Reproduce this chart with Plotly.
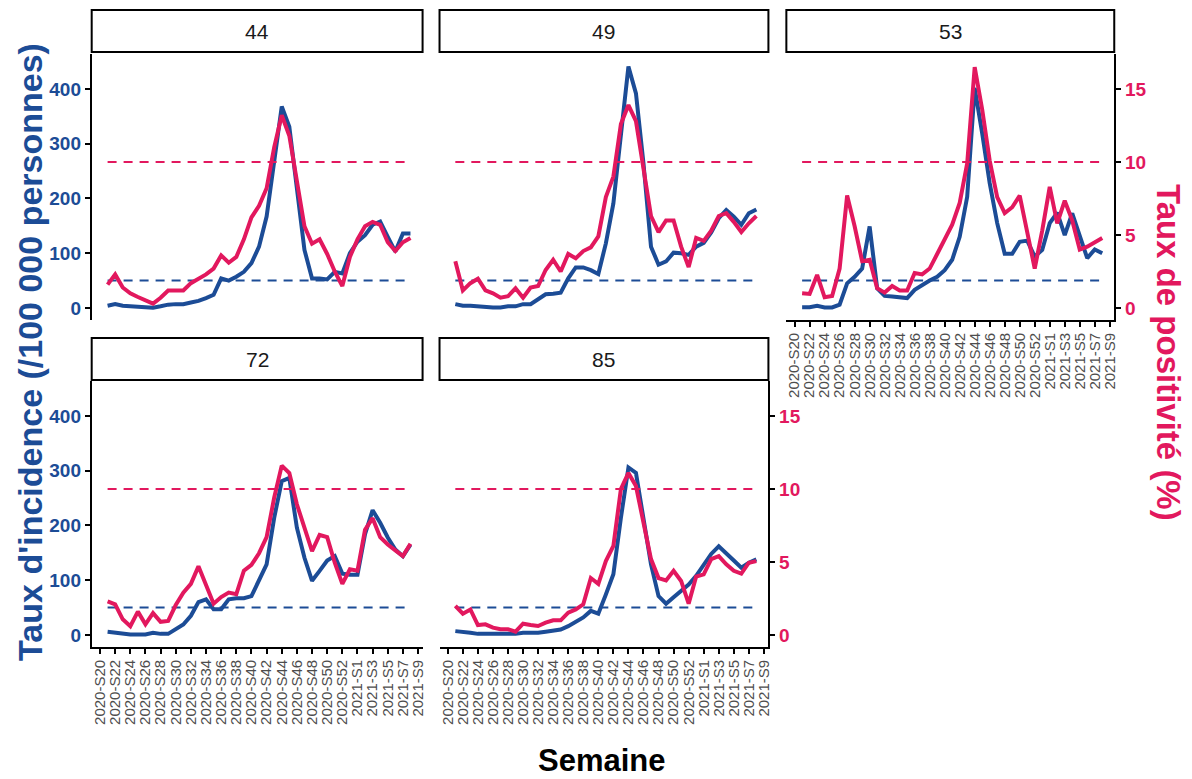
import plotly.graph_objects as go

# ---------------- data ----------------
weeks = [f"2020-S{w}" for w in range(20, 54)] + [f"2021-S{w}" for w in range(1, 10)]
tick_labels = weeks[::2]
data_weeks = weeks[1:42]  # 2020-S21 .. 2021-S8

departements = ["44", "49", "53", "72", "85"]

incidence_44 = [4, 7, 4, 3, 2, 1, 0.5, 3, 6, 7, 7, 10, 13, 18, 24, 54, 50, 57, 66, 82,
                112, 167, 264, 368, 331, 215, 106, 54, 54, 52, 66, 63, 100, 121, 133, 152, 158, 130, 103, 136, 136]
positivite_44 = [1.6, 2.3, 1.4, 1.0, 0.75, 0.5, 0.3, 0.7, 1.2, 1.2, 1.2, 1.7, 2.0, 2.3, 2.7, 3.6, 3.1, 3.5, 4.7, 6.2,
                 7.0, 8.2, 11.0, 13.2, 11.8, 8.5, 5.6, 4.4, 4.7, 3.7, 2.5, 1.5, 3.5, 4.7, 5.6, 5.9, 5.7, 4.5, 3.9, 4.5, 4.8]

incidence_49 = [7, 4, 4, 3, 1, 1, 1, 3, 3, 7, 7, 16, 25, 26, 28, 54, 74, 74, 69, 62,
                118, 191, 319, 441, 392, 264, 112, 79, 85, 101, 100, 97, 112, 119, 138, 164, 179, 167, 152, 173, 180]
positivite_49 = [3.2, 1.2, 1.7, 2.0, 1.2, 1.0, 0.7, 0.8, 1.35, 0.7, 1.4, 1.5, 2.6, 3.3, 2.5, 3.7, 3.4, 3.9, 4.15, 4.9,
                 7.6, 9.0, 12.6, 13.9, 12.8, 9.5, 6.3, 5.2, 6.0, 6.0, 4.2, 2.8, 4.8, 4.6, 5.3, 6.3, 6.5, 5.9, 5.2, 5.8, 6.3]

incidence_53 = [1.2, 1.2, 4, 1, 1, 6, 45, 57, 72, 149, 36, 22, 21, 19.5, 18, 33, 42, 50, 57, 69,
                88, 130, 203, 402, 319, 228, 155, 99, 99, 121, 123, 94, 106, 155, 174, 133, 173, 133, 91, 107, 100]
positivite_53 = [1.0, 0.96, 2.26, 0.73, 0.82, 2.7, 7.7, 5.6, 3.2, 3.3, 1.35, 1.05, 1.5, 1.2, 1.2, 2.4, 2.3, 2.7, 3.7, 4.7,
                 5.7, 7.2, 9.9, 16.5, 13.6, 10.1, 7.6, 6.5, 6.9, 7.7, 5.1, 2.7, 5.3, 8.3, 5.8, 7.35, 6.0, 4.0, 4.2, 4.5, 4.8]

incidence_72 = [6, 4, 2.4, 1, 1, 1, 4, 2, 2, 10, 19, 35, 60, 65, 47, 47, 65, 67, 67, 71,
                102, 129, 214, 281, 287, 196, 141, 99, 117, 136, 144, 112, 110, 110, 184, 228, 205, 178, 156, 144, 165]
positivite_72 = [2.3, 2.1, 1.07, 0.6, 1.6, 0.73, 1.5, 0.9, 0.96, 2.05, 2.9, 3.5, 4.7, 3.5, 2.14, 2.6, 2.9, 2.8, 4.4, 4.8,
                 5.6, 6.7, 9.4, 11.6, 11.1, 8.95, 7.35, 5.75, 6.85, 6.7, 4.95, 3.5, 4.5, 4.4, 7.2, 8.0, 6.7, 6.2, 5.8, 5.4, 6.25]

incidence_85 = [7, 6, 4, 2, 2, 2, 2, 1, 2, 4, 4, 4, 6, 8, 10, 16, 24, 32, 44, 39,
                74, 111, 214, 306, 296, 208, 129, 71, 57, 69, 80, 92, 108, 129, 148, 162, 150, 136, 123, 132, 138]
positivite_85 = [2.0, 1.46, 1.75, 0.68, 0.73, 0.5, 0.39, 0.39, 0.23, 0.77, 0.68, 0.61, 0.84, 1.0, 1.0, 1.53, 1.75, 2.1, 3.9, 3.5,
                 5.06, 6.1, 10.0, 11.1, 10.2, 7.6, 5.2, 3.9, 3.74, 4.4, 3.7, 2.14, 4.0, 4.15, 5.2, 5.4, 4.84, 4.4, 4.2, 4.95, 5.06]

incidence = [incidence_44, incidence_49, incidence_53, incidence_72, incidence_85]
positivite = [positivite_44, positivite_49, positivite_53, positivite_72, positivite_85]

seuil_incidence = 50
seuil_positivite = 10
incidence_ticks = [0, 100, 200, 300, 400]
positivite_ticks = [0, 5, 10, 15]
coef = 400 / 15

# ---------------- style ----------------
BLUE = "#1C4C96"
PINK = "#E2185E"
W, H = 1192, 779
FONT = "Liberation Sans, Arial, sans-serif"

col_px = [(91, 423), (440, 770), (788, 1117)]
row_px = [(54, 320), (381, 647)]
strip_px = [(10, 52), (338, 380)]
panel_pos = [(0, 0), (0, 1), (0, 2), (1, 0), (1, 1)]  # (row, col)

y_range = [-22, 464]
x_range = [-1.1, 42.6]


def px_x(v):
    return v / W


def px_y(v):
    return 1 - v / H


fig = go.Figure()
layout = dict(
    width=W, height=H,
    margin=dict(l=0, r=0, t=0, b=0),
    paper_bgcolor="white", plot_bgcolor="rgba(0,0,0,0)",
    showlegend=False,
    font=dict(family=FONT),
    shapes=[], annotations=[],
)

for p, dep in enumerate(departements):
    r, c = panel_pos[p]
    xn = "" if p == 0 else str(p + 1)
    y1n = "" if p == 0 else str(2 * p + 1)
    y2n = str(2 * p + 2)
    xref, y1ref, y2ref = "x" + xn, "y" + y1n, "y" + y2n

    xd = [px_x(col_px[c][0]), px_x(col_px[c][1])]
    yd = [px_y(row_px[r][1]), px_y(row_px[r][0])]

    show_x = p in (2, 3, 4)
    show_left = c == 0
    show_right = p in (2, 4)

    layout["xaxis" + xn] = dict(
        domain=xd, anchor=y1ref, type="category", categoryorder="array", categoryarray=weeks,
        range=x_range, tickmode="array", tickvals=tick_labels, ticktext=tick_labels,
        showticklabels=show_x, ticks="outside" if show_x else "", ticklen=5, tickwidth=1.5, tickcolor="black",
        showline=show_x, linecolor="black", linewidth=1.8,
        tickangle=-90, tickfont=dict(size=15, color="#4D4D4D", family=FONT),
        showgrid=False, zeroline=False,
    )
    layout["yaxis" + y1n] = dict(
        domain=yd, anchor=xref, range=y_range, tickmode="array", tickvals=incidence_ticks,
        showticklabels=show_left, ticks="outside" if show_left else "", ticklen=5, tickwidth=1.5, tickcolor="black",
        showline=show_left, linecolor="black", linewidth=1.8,
        tickfont=dict(size=19, color=BLUE, family=FONT, weight="bold"),
        showgrid=False, zeroline=False,
    )
    layout["yaxis" + y2n] = dict(
        overlaying=y1ref, anchor=xref, side="right",
        range=[y_range[0] / coef, y_range[1] / coef], tickmode="array", tickvals=positivite_ticks,
        showticklabels=show_right, ticks="outside" if show_right else "", ticklen=5, tickwidth=1.5, tickcolor="black",
        showline=show_right, linecolor="black", linewidth=1.8,
        tickfont=dict(size=19, color=PINK, family=FONT, weight="bold"),
        showgrid=False, zeroline=False,
    )

    # threshold dashed lines
    fig.add_trace(go.Scatter(x=data_weeks, y=[seuil_incidence] * len(data_weeks), mode="lines",
                             line=dict(color=BLUE, width=2, dash="9px,7px"), xaxis=xref, yaxis=y1ref,
                             hoverinfo="skip"))
    fig.add_trace(go.Scatter(x=data_weeks, y=incidence[p], mode="lines",
                             line=dict(color=BLUE, width=4), xaxis=xref, yaxis=y1ref, name="Incidence"))
    fig.add_trace(go.Scatter(x=data_weeks, y=[seuil_positivite] * len(data_weeks), mode="lines",
                             line=dict(color=PINK, width=2, dash="9px,7px"), xaxis=xref, yaxis=y2ref,
                             hoverinfo="skip"))
    fig.add_trace(go.Scatter(x=data_weeks, y=positivite[p], mode="lines",
                             line=dict(color=PINK, width=4), xaxis=xref, yaxis=y2ref, name="Positivité"))

    # strip
    sy0, sy1 = strip_px[r]
    layout["shapes"].append(dict(type="rect", xref="paper", yref="paper",
                                 x0=xd[0], x1=xd[1], y0=px_y(sy1), y1=px_y(sy0),
                                 line=dict(color="black", width=2), fillcolor="white"))
    layout["annotations"].append(dict(xref="paper", yref="paper", x=(xd[0] + xd[1]) / 2,
                                      y=(px_y(sy0) + px_y(sy1)) / 2, text=dep, showarrow=False,
                                      font=dict(size=21, color="#1A1A1A", family=FONT),
                                      xanchor="center", yanchor="middle"))

# axis titles
layout["annotations"].append(dict(xref="paper", yref="paper", x=px_x(29), y=px_y(352),
                                  text="<b>Taux d'incidence (/100 000 personnes)</b>", textangle=-90,
                                  showarrow=False, font=dict(size=34, color=BLUE, family=FONT),
                                  xanchor="center", yanchor="middle"))
layout["annotations"].append(dict(xref="paper", yref="paper", x=px_x(1172), y=px_y(352),
                                  text="<b>Taux de positivité (%)</b>", textangle=90,
                                  showarrow=False, font=dict(size=33, color=PINK, family=FONT),
                                  xanchor="center", yanchor="middle"))
layout["annotations"].append(dict(xref="paper", yref="paper", x=px_x(603), y=px_y(760),
                                  text="<b>Semaine</b>", showarrow=False,
                                  font=dict(size=31, color="black", family=FONT),
                                  xanchor="center", yanchor="middle"))

fig.update_layout(**layout)
fig.write_html("out.html", config={"displayModeBar": False},
               post_script="document.body.style.margin='0';document.body.style.overflow='hidden';")
